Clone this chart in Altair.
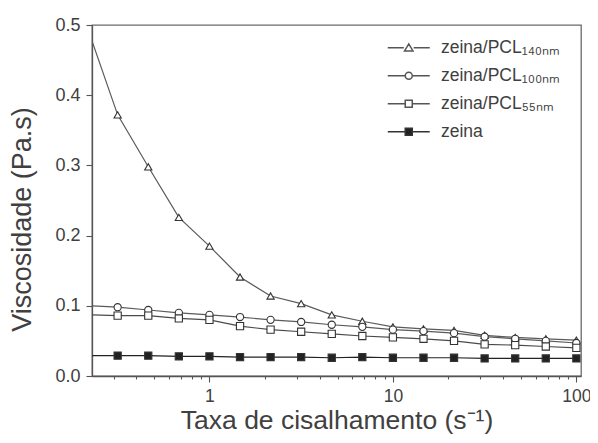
import altair as alt
import pandas as pd

# --- data -------------------------------------------------------------------
shear_rate = [0.23, 0.316, 0.464, 0.681, 1.0, 1.468, 2.154, 3.162, 4.642,
              6.813, 10.0, 14.68, 21.54, 31.62, 46.42, 68.13, 100.0]
visc_140 = [0.476, 0.372, 0.298, 0.226, 0.185, 0.141, 0.114, 0.103, 0.087,
            0.078, 0.070, 0.067, 0.065, 0.058, 0.055, 0.053, 0.051]
visc_100 = [0.100, 0.098, 0.094, 0.090, 0.087, 0.084, 0.080, 0.077, 0.073,
            0.070, 0.066, 0.064, 0.061, 0.056, 0.053, 0.050, 0.047]
visc_55 = [0.087, 0.086, 0.086, 0.082, 0.080, 0.071, 0.066, 0.063, 0.060,
           0.057, 0.055, 0.053, 0.050, 0.045, 0.044, 0.042, 0.040]
visc_zeina = [0.029, 0.029, 0.029, 0.028, 0.028, 0.027, 0.027, 0.027, 0.026,
              0.027, 0.026, 0.026, 0.026, 0.025, 0.025, 0.025, 0.025]

series_names = ["zeina/PCL₁₄₀ₙₘ", "zeina/PCL₁₀₀ₙₘ", "zeina/PCL₅₅ₙₘ", "zeina"]
series_values = [visc_140, visc_100, visc_55, visc_zeina]

x_minor = [0.3, 0.4, 0.5, 0.6, 0.7, 0.8, 0.9, 1, 2, 3, 4, 5, 6, 7, 8, 9,
           10, 20, 30, 40, 50, 60, 70, 80, 90, 100]
y_ticks = [0.0, 0.05, 0.1, 0.15, 0.2, 0.25, 0.3, 0.35, 0.4, 0.45, 0.5]

rows = []
for name, vals in zip(series_names, series_values):
    for i, (r, v) in enumerate(zip(shear_rate, vals)):
        rows.append({"rate": r, "visc": v, "series": name, "idx": i})
df = pd.DataFrame(rows)

FONT = "Liberation Sans"
TXT = "#404040"
AX = "#555555"

major_test = "abs(log(datum.value)/LN10 - round(log(datum.value)/LN10)) < 0.001"

x_enc = alt.X(
    "rate:Q",
    scale=alt.Scale(type="log", domain=[0.229, 106], nice=False),
    axis=alt.Axis(
        values=x_minor,
        format="~g",
        labelExpr=f"({major_test}) ? datum.label : ''",
        tickSize={"condition": {"test": major_test, "value": 6}, "value": 3},
        labelOverlap=False,
        labelFlush=False,
        labelFontSize=17.5,
        labelPadding=5,
        title="Taxa de cisalhamento (s⁻¹)",
        titleFontSize=26.5,
        titleFontWeight="normal",
        titleY=52,
        titleBaseline="alphabetic",
        grid=False,
    ),
)
ymajor_test = "round(datum.value*20) % 2 == 0"
y_enc = alt.Y(
    "visc:Q",
    scale=alt.Scale(domain=[0, 0.5], nice=False),
    axis=alt.Axis(
        values=y_ticks,
        format=".1f",
        labelExpr=f"({ymajor_test}) ? datum.label : ''",
        tickSize={"condition": {"test": ymajor_test, "value": 6}, "value": 3},
        labelOverlap=False,
        labelFlush=False,
        labelFontSize=18,
        labelPadding=6,
        title="Viscosidade (Pa.s)",
        titleFontSize=27,
        titleFontWeight="normal",
        titleX=-70,
        titleY=194,
        titleAlign="center",
        titleBaseline="middle",
        grid=False,
    ),
)

line_colors = ["#5a5a5a", "#5a5a5a", "#4a4a4a", "#222222"]
shapes = ["triangle-up", "circle", "square", "square"]
fills = ["white", "white", "white", "#222222"]
strokes = ["#555555", "#555555", "#555555", "#333333"]
legend_paths = [
    "M-6,0H-1.4M1.4,0H6M0,-1.1L1.2,0.9L-1.2,0.9Z",
    "M-6,0H-1.2M1.2,0H6M1,0A1,1 0 1 1 -1,0A1,1 0 1 1 1,0Z",
    "M-6,0H-1.2M1.2,0H6M-1,-1H1V1H-1Z",
    "M-6,0H-1.2M1.2,0H6M-1,-1H1V1H-1Z",
]

base = alt.Chart(df)

lines = base.mark_line(strokeWidth=1.2, clip=True).encode(
    x=x_enc,
    y=y_enc,
    color=alt.Color("series:N", scale=alt.Scale(domain=series_names, range=line_colors), legend=None),
    order="idx:Q",
)

points = base.transform_filter("datum.idx > 0").mark_point(
    filled=True, size=52, stroke="#333333", strokeWidth=1.1, opacity=1
).encode(
    x="rate:Q",
    y="visc:Q",
    shape=alt.Shape("series:N", scale=alt.Scale(domain=series_names, range=shapes), legend=None),
    fill=alt.Fill("series:N", scale=alt.Scale(domain=series_names, range=fills), legend=None),
)

leg = alt.Legend(title=None, symbolSize=49)
legend_layer = base.transform_filter("false").mark_point(
    filled=True, size=49, strokeWidth=1.1, opacity=1
).encode(
    x="rate:Q",
    y="visc:Q",
    shape=alt.Shape("series:N", scale=alt.Scale(domain=series_names, range=legend_paths), legend=leg),
    fill=alt.Fill("series:N", scale=alt.Scale(domain=series_names, range=fills), legend=leg),
    stroke=alt.Stroke("series:N", scale=alt.Scale(domain=series_names, range=strokes), legend=leg),
)

chart = (
    alt.layer(lines, points, legend_layer)
    .resolve_scale(shape="independent", fill="independent", stroke="independent")
    .properties(
        width=489,
        height=351,
        autosize="none",
        padding={"left": 84, "top": 17, "right": 9, "bottom": 59},
    )
    .configure_view(stroke="#6a6a6a", strokeWidth=1.3)
    .configure_axis(
        domainColor=AX,
        domainWidth=1.3,
        tickColor=AX,
        tickWidth=1.1,
        labelColor=TXT,
        titleColor=TXT,
        labelFont=FONT,
        titleFont=FONT,
    )
    .configure_legend(
        orient="none",
        legendX=308,
        legendY=14,
        padding=0,
        labelFont=FONT,
        labelFontSize=17.5,
        labelColor=TXT,
        labelOffset=23.5,
        rowPadding=9,
        symbolSize=49,
    )
)

chart.save("out.html", embed_options={"renderer": "svg", "actions": False})
